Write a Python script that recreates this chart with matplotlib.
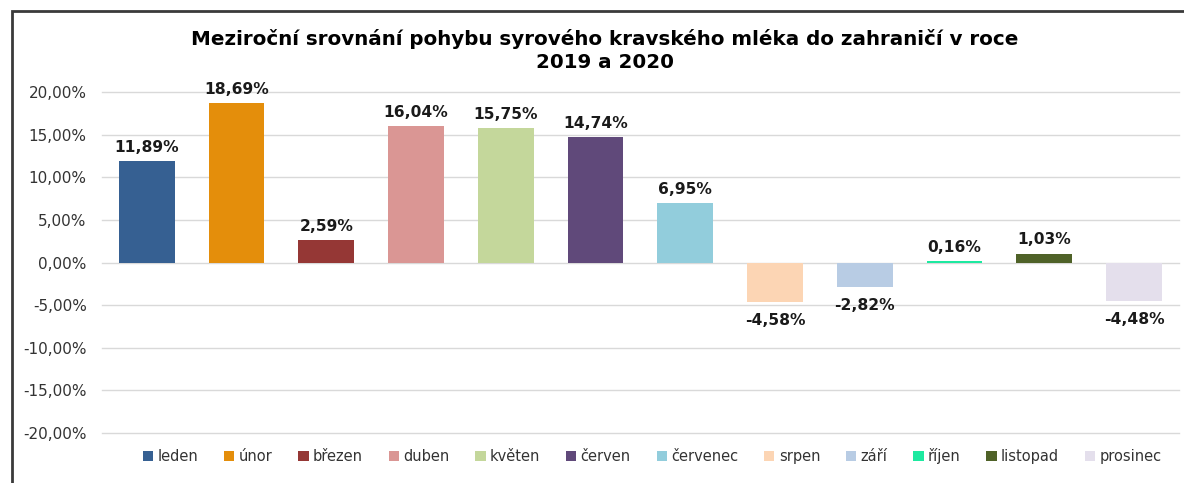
import matplotlib.pyplot as plt
from matplotlib.patches import Rectangle
from matplotlib.ticker import FuncFormatter, MultipleLocator

# Data
mesice = ['leden', 'únor', 'březen', 'duben', 'květen', 'červen',
          'červenec', 'srpen', 'září', 'říjen', 'listopad', 'prosinec']
zmena = [11.89, 18.69, 2.59, 16.04, 15.75, 14.74, 6.95, -4.58, -2.82, 0.16, 1.03, -4.48]
barvy = ['#366092', '#E48E0B', '#953735', '#DA9694', '#C4D79B', '#60497A',
         '#92CDDC', '#FCD5B4', '#B8CCE4', '#1DE9A0', '#4F6228', '#E4DFEC']

plt.rcParams['font.family'] = 'DejaVu Sans'

fig = plt.figure(figsize=(11.84, 4.83), dpi=100)
ax = fig.add_axes([0.0861, 0.1035, 0.9096, 0.706])

x = range(len(mesice))
bars = ax.bar(x, zmena, width=0.62, color=barvy, label=mesice, zorder=3)

for xi, v in zip(x, zmena):
    txt = f'{v:.2f}%'.replace('.', ',')
    if v >= 0:
        ax.annotate(txt, (xi, v), xytext=(0, 4.5), textcoords='offset points',
                    ha='center', va='bottom', fontsize=11.2, fontweight='bold', color='#1a1a1a')
    else:
        ax.annotate(txt, (xi, v), xytext=(0, -8), textcoords='offset points',
                    ha='center', va='top', fontsize=11.2, fontweight='bold', color='#1a1a1a')

ax.set_xlim(-0.5, 11.5)
ax.set_ylim(-20, 20)
ax.yaxis.set_major_locator(MultipleLocator(5))
ax.yaxis.set_major_formatter(FuncFormatter(lambda v, p: f'{v:.2f}%'.replace('.', ',')))
ax.set_xticks([])
ax.tick_params(axis='y', length=0, labelsize=11, labelcolor='#333333', pad=11)
ax.grid(axis='y', color='#D9D9D9', linewidth=1, zorder=0)
for gl in ax.get_ygridlines():
    gl.set_clip_on(False)
for s in ax.spines.values():
    s.set_visible(False)

fig.text(0.511, 0.896, 'Meziroční srovnání pohybu syrového kravského mléka do zahraničí v roce\n2019 a 2020',
         ha='center', va='center', fontsize=14.3, fontweight='bold', linespacing=1.25)

fig.legend(handles=bars.patches, labels=mesice, loc='center', bbox_to_anchor=(0.551, 0.055),
           ncol=12, frameon=False, fontsize=10.5, handlelength=0.7, handleheight=0.7,
           handletextpad=0.3, columnspacing=1.77, labelcolor='#333333')

# outer border
fig.patches.append(Rectangle((12 / 1184, -0.1), 1.2, 1 - 11 / 483 + 0.1, transform=fig.transFigure,
                             fill=False, edgecolor='#3a3a3a', linewidth=2))

fig.savefig('out.png', dpi=100)
